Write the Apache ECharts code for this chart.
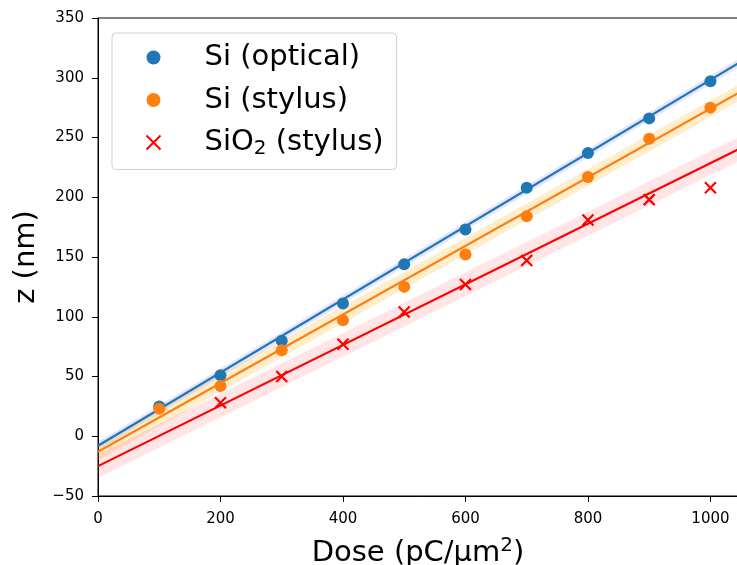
<!DOCTYPE html>
<html>
<head>
<meta charset="utf-8">
<script src="https://cdn.jsdelivr.net/npm/echarts@6/dist/echarts.min.js"></script>
<style>
  html,body{margin:0;padding:0;background:#fff;}
  #chart{width:737px;height:565px;}
</style>
</head>
<body>
<div id="chart"></div>
<script>
// 剂量 (pC/μm²)
let doses=[100,200,300,400,500,600,700,800,900,1000]
let sio2Doses=[200,300,400,500,600,700,800,900,1000]
// 测量值 z (nm)
let siOptical=[25,51,80,111,144,173,208,237,266,297]
let siStylus=[23,42,72,97,125,152,184,217,249,275]
let sio2Stylus=[28,50,77,104,127,147,181,198,208]
// 拟合直线端点
let fitX=[0,1045]
let siOpticalFit=[-8,312]
let siStylusFit=[-13,287]
let sio2Fit=[-25,240]
// 置信带半宽
let siOpticalBand=3.5
let siStylusBand=7
let sio2Band=10

let xTicks={min:0,max:1045,interval:200}
let yTicks={min:-50,max:350,interval:50}

const FONT='DejaVu Sans'
const crossPath='path://M0,0L10,10M10,0L0,10'

function pts(xs,ys){
  return xs.map((x,i)=>[x,ys[i]])
}
//置信带: 用custom多边形画
function band(fit,half,color){
  return {
    type:'custom',silent:true,z:1,
    data:[[fitX[0],fit[0]]],
    renderItem:function(params,api){
      let upper=fitX.map((x,i)=>api.coord([x,fit[i]+half]))
      let lower=fitX.map((x,i)=>api.coord([x,fit[i]-half])).reverse()
      return {type:'polygon',shape:{points:upper.concat(lower)},style:{fill:color}}
    }
  }
}
function fitLine(fit,color){
  return {type:'line',data:pts(fitX,fit),symbol:'none',
    lineStyle:{color:color,width:2.2},silent:true,z:2}
}

let chart=echarts.init(document.getElementById('chart'),null,{renderer:'canvas'})
let option={
  animation:false,
  backgroundColor:'#fff',
  textStyle:{fontFamily:FONT},
  grid:{left:98,top:18,right:-1,bottom:69,show:true,borderColor:'#000',borderWidth:1,
    containLabel:false,outerBoundsMode:'none'},
  legend:{
    data:['Si (optical)','Si (stylus)','SiO2 (stylus)'],
    orient:'vertical',left:112,top:33,
    padding:[10,13,11,32],itemGap:13.5,
    itemWidth:40,itemHeight:14,
    backgroundColor:'rgba(255,255,255,0.8)',
    borderColor:'#d0d0d0',borderWidth:1,borderRadius:4,
    formatter:function(n){
      if(n=='SiO2 (stylus)') return '{a|SiO}{sub|2}{a| (stylus)}'
      return '{a|'+n+'}'
    },
    textStyle:{
      fontFamily:FONT,fontSize:29,color:'#000',padding:[0,0,0,26],
      rich:{
        a:{fontFamily:FONT,fontSize:29,color:'#000',lineHeight:32},
        sub:{fontFamily:FONT,fontSize:20,color:'#000',lineHeight:32,verticalAlign:'bottom',padding:[10,0,0,0]}
      }
    }
  },
  xAxis:{
    type:'value',min:xTicks.min,max:xTicks.max,interval:xTicks.interval,
    name:'{a|Dose (pC/μm}{sup|2}{a|)}',nameLocation:'middle',nameGap:40,
    nameTextStyle:{fontFamily:FONT,fontSize:29,color:'#000',
      rich:{
        a:{fontFamily:FONT,fontSize:29,color:'#000',lineHeight:34},
        sup:{fontFamily:FONT,fontSize:20,color:'#000',lineHeight:34,verticalAlign:'top',padding:[0,0,10,0]}
      }},
    axisLine:{onZero:false,lineStyle:{color:'#000',width:1}},
    axisTick:{show:true,inside:false,length:6,lineStyle:{color:'#000'}},
    axisLabel:{fontFamily:FONT,fontSize:15,color:'#000',margin:16,showMaxLabel:false,
      formatter:v=>String(v)},
    splitLine:{show:false}
  },
  yAxis:{
    type:'value',min:yTicks.min,max:yTicks.max,interval:yTicks.interval,
    name:'z (nm)',nameLocation:'middle',nameGap:57,nameRotate:90,
    nameTextStyle:{fontFamily:FONT,fontSize:29,color:'#000'},
    axisLine:{onZero:false,lineStyle:{color:'#000',width:1}},
    axisTick:{show:true,inside:false,length:6,lineStyle:{color:'#000'}},
    axisLabel:{fontFamily:FONT,fontSize:15,color:'#000',margin:14,
      formatter:v=>String(v).replace('-','\u2212')},
    splitLine:{show:false}
  },
  series:[
    band(siOpticalFit,siOpticalBand,'rgba(0,0,255,0.1)'),
    band(siStylusFit,siStylusBand,'rgba(255,165,0,0.2)'),
    band(sio2Fit,sio2Band,'rgba(255,0,0,0.1)'),
    fitLine(siOpticalFit,'#1f77b4'),
    fitLine(siStylusFit,'#ff7f0e'),
    fitLine(sio2Fit,'#ff0000'),
    {name:'Si (optical)',type:'scatter',data:pts(doses,siOptical),
      symbol:'circle',symbolSize:12,itemStyle:{color:'#1f77b4',opacity:1},z:3},
    {name:'Si (stylus)',type:'scatter',data:pts(doses,siStylus),
      symbol:'circle',symbolSize:12,itemStyle:{color:'#ff7f0e',opacity:1},z:3},
    {name:'SiO2 (stylus)',type:'scatter',data:pts(sio2Doses,sio2Stylus),
      symbol:crossPath,symbolSize:11,
      itemStyle:{color:'none',borderColor:'#ff0000',borderWidth:2.2,opacity:1},z:3}
  ]
}
chart.setOption(option)
</script>
</body>
</html>
